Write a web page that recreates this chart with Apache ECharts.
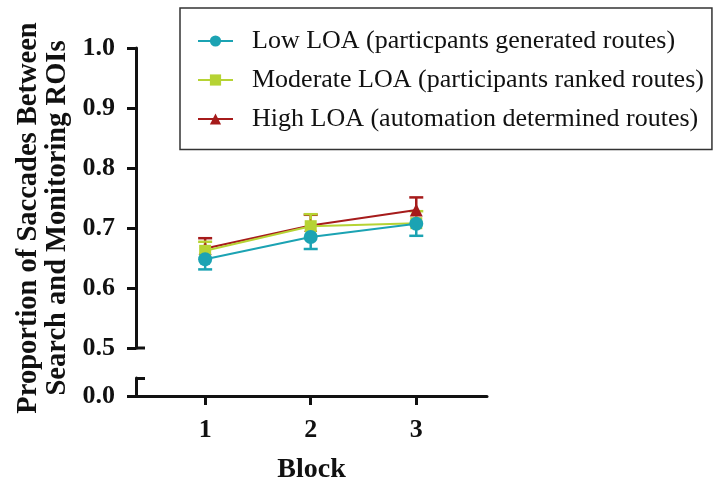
<!DOCTYPE html>
<html>
<head>
<meta charset="utf-8">
<script src="https://cdn.jsdelivr.net/npm/echarts@6/dist/echarts.min.js"></script>
<style>html,body{margin:0;padding:0;background:#fff}#c{width:714px;height:485px}</style>
</head>
<body>
<div id="c"></div>
<script>
const blocks = [1, 2, 3];
const seriesNames = ['Low LOA (particpants generated routes)', 'Moderate LOA (participants ranked routes)', 'High LOA (automation determined routes)'];
const lowMean = [0.648, 0.685, 0.707];
const lowErr = [0.017, 0.020, 0.020];
const modMean = [0.662, 0.703, 0.708];
const modErr = [0.015, 0.020, 0.020];
const highMean = [0.666, 0.704, 0.730];
const highErr = [0.017, 0.018, 0.021];
const upperTicks = [0.5, 0.6, 0.7, 0.8, 0.9, 1.0];
const lowerTicks = [0.0];
const yTitle = 'Proportion of Saccades Between\nSearch and Monitoring ROIs';
const xTitle = 'Block';

const colors = ['#1ba3b3', '#b6d334', '#a61b1b'];
const symbols = ['circle', 'rect', 'triangle'];
const symSizes = [14, 12, 13];
const means = [lowMean, modMean, highMean];
const errs = [lowErr, modErr, highErr];
const dirs = [-1, 1, 1];
const zs = [6, 5, 4];
const FONT = '"Liberation Serif", "Times New Roman", serif';
const X_MIN = 0.345, X_MAX = 3.67;

const chart = echarts.init(document.getElementById('c'), null, {renderer: 'canvas'});

const series = [];
for (let i = 0; i < 3; i++) {
  series.push({
    name: seriesNames[i], type: 'line', xAxisIndex: 0, yAxisIndex: 0,
    data: blocks.map((b, j) => [b, means[i][j]]),
    symbol: symbols[i], symbolSize: symSizes[i],
    itemStyle: {color: colors[i]}, lineStyle: {color: colors[i], width: 2},
    z: zs[i] + 1
  });
}
for (let i = 0; i < 3; i++) {
  series.push({
    name: 'err' + i, type: 'custom', xAxisIndex: 0, yAxisIndex: 0,
    data: blocks.map((b, j) => [b, means[i][j], means[i][j] + dirs[i] * errs[i][j]]),
    z: zs[i],
    renderItem: function (params, api) {
      const p1 = api.coord([api.value(0), api.value(1)]);
      const p2 = api.coord([api.value(0), api.value(2)]);
      const hw = 7;
      const st = {stroke: colors[i], lineWidth: 2.5};
      return {type: 'group', children: [
        {type: 'line', shape: {x1: p1[0], y1: p1[1], x2: p2[0], y2: p2[1]}, style: st},
        {type: 'line', shape: {x1: p2[0] - hw, y1: p2[1], x2: p2[0] + hw, y2: p2[1]}, style: st}
      ]};
    }
  });
}

const axisLineStyle = {color: '#111', width: 3};
const labelStyle = {color: '#111', fontFamily: FONT, fontWeight: 'bold', fontSize: 26};

chart.setOption({
  animation: false,
  backgroundColor: '#fff',
  grid: [
    {left: 136, top: 48, width: 351, height: 300},
    {left: 136, top: 378, width: 351, height: 20}
  ],
  legend: {
    data: seriesNames, orient: 'vertical', left: 180, top: 8,
    padding: [20, 8, 17.5, 17], itemWidth: 35, itemHeight: 14, itemGap: 13,
    borderColor: '#333', borderWidth: 1.5,
    textStyle: {fontFamily: FONT, fontSize: 26, color: '#111', lineHeight: 24, padding: [0, 0, 0, 14]}
  },
  xAxis: [
    {gridIndex: 0, type: 'value', min: X_MIN, max: X_MAX, show: false},
    {gridIndex: 1, type: 'value', min: X_MIN, max: X_MAX,
      axisLine: {lineStyle: axisLineStyle},
      axisTick: {length: 9, lineStyle: axisLineStyle, customValues: blocks},
      axisLabel: {customValues: blocks, margin: 21, ...labelStyle},
      splitLine: {show: false},
      name: xTitle, nameLocation: 'middle', nameGap: 60,
      nameTextStyle: {...labelStyle, fontSize: 28}}
  ],
  yAxis: [
    {gridIndex: 0, type: 'value', min: 0.5, max: 1.0, interval: 0.1, position: 'left',
      axisLine: {show: true, lineStyle: axisLineStyle},
      axisTick: {length: 9, lineStyle: axisLineStyle, customValues: upperTicks},
      axisLabel: {customValues: upperTicks, margin: 21, formatter: v => v.toFixed(1), ...labelStyle},
      splitLine: {show: false}},
    {gridIndex: 1, type: 'value', min: 0, max: 1, position: 'left',
      axisLine: {show: true, lineStyle: axisLineStyle},
      axisTick: {length: 9, lineStyle: axisLineStyle, customValues: lowerTicks},
      axisLabel: {customValues: lowerTicks, margin: 21, formatter: v => v.toFixed(1), ...labelStyle},
      splitLine: {show: false}},
    {gridIndex: 1, type: 'value', min: 0, max: 1, position: 'left',
      axisLine: {show: false},
      axisTick: {show: true, inside: true, length: 9, lineStyle: axisLineStyle, customValues: [1]},
      axisLabel: {show: false}, splitLine: {show: false}}
  ],
  graphic: [{
    type: 'text', x: 43, y: 218, rotation: Math.PI / 2,
    style: {text: yTitle, fontFamily: FONT, fontWeight: 'bold', fontSize: 28.5, lineHeight: 29,
      fill: '#111', align: 'center', verticalAlign: 'middle'}
  }],
  series: series
});

// break cap at the bottom end of the upper axis segment, placed through the library's scale
const capPt = chart.convertToPixel({xAxisIndex: 0, yAxisIndex: 0}, [X_MIN, upperTicks[0]]);
chart.setOption({
  graphic: [{
    type: 'text', x: 43, y: 218, rotation: Math.PI / 2,
    style: {text: yTitle, fontFamily: FONT, fontWeight: 'bold', fontSize: 28.5, lineHeight: 29,
      fill: '#111', align: 'center', verticalAlign: 'middle'}
  }, {
    type: 'line', shape: {x1: capPt[0], y1: capPt[1], x2: capPt[0] + 9, y2: capPt[1]},
    style: {stroke: '#111', lineWidth: 3}, z: 10
  }]
});
</script>
</body>
</html>
